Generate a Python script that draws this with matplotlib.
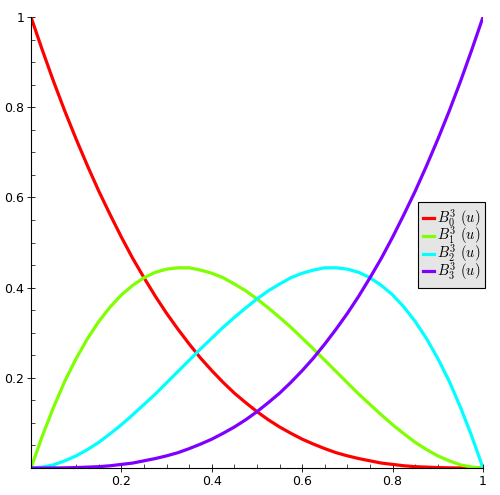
import matplotlib
matplotlib.use("Agg")
import matplotlib.pyplot as plt
from matplotlib.ticker import MultipleLocator, FixedLocator

plt.rcParams['mathtext.fontset'] = 'cm'

# values at u = 0, 0.025, ..., 1
u = [0.0, 0.025, 0.05, 0.075, 0.1, 0.125, 0.15, 0.175, 0.2, 0.225, 0.25,
     0.275, 0.3, 0.325, 0.35, 0.375, 0.4, 0.425, 0.45, 0.475, 0.5,
     0.525, 0.55, 0.575, 0.6, 0.625, 0.65, 0.675, 0.7, 0.725, 0.75,
     0.775, 0.8, 0.825, 0.85, 0.875, 0.9, 0.925, 0.95, 0.975, 1.0]
b0 = [1.0, 0.927, 0.857, 0.791, 0.729, 0.670, 0.614, 0.562, 0.512, 0.465, 0.422,
      0.381, 0.343, 0.308, 0.275, 0.244, 0.216, 0.190, 0.166, 0.145, 0.125,
      0.107, 0.091, 0.077, 0.064, 0.053, 0.043, 0.034, 0.027, 0.021, 0.016,
      0.011, 0.008, 0.005, 0.003, 0.002, 0.001, 0.0004, 0.0001, 0.0, 0.0]
b1 = [0.0, 0.071, 0.135, 0.193, 0.243, 0.287, 0.325, 0.357, 0.384, 0.405, 0.422,
      0.434, 0.441, 0.444, 0.444, 0.439, 0.432, 0.422, 0.408, 0.393, 0.375,
      0.355, 0.334, 0.312, 0.288, 0.264, 0.239, 0.214, 0.189, 0.164, 0.141,
      0.118, 0.096, 0.076, 0.057, 0.041, 0.027, 0.016, 0.007, 0.002, 0.0]
b2 = [0.0, 0.002, 0.007, 0.016, 0.027, 0.041, 0.057, 0.076, 0.096, 0.118, 0.141,
      0.164, 0.189, 0.214, 0.239, 0.264, 0.288, 0.312, 0.334, 0.355, 0.375,
      0.393, 0.408, 0.422, 0.432, 0.439, 0.444, 0.444, 0.441, 0.434, 0.422,
      0.405, 0.384, 0.357, 0.325, 0.287, 0.243, 0.193, 0.135, 0.071, 0.0]
b3 = [0.0, 0.0, 0.0001, 0.0004, 0.001, 0.002, 0.003, 0.005, 0.008, 0.011, 0.016,
      0.021, 0.027, 0.034, 0.043, 0.053, 0.064, 0.077, 0.091, 0.107, 0.125,
      0.145, 0.166, 0.190, 0.216, 0.244, 0.275, 0.308, 0.343, 0.381, 0.422,
      0.465, 0.512, 0.562, 0.614, 0.670, 0.729, 0.791, 0.857, 0.927, 1.0]

series = [b0, b1, b2, b3]
labels = [r'$B_{0}^{3}\ (u)$', r'$B_{1}^{3}\ (u)$', r'$B_{2}^{3}\ (u)$', r'$B_{3}^{3}\ (u)$']
colors = ['#ff0000', '#7fff00', '#00ffff', '#7f00ff']

fig = plt.figure(figsize=(5, 4.95), dpi=100)
ax = fig.add_axes([0.062, 0.0545, 0.904, 0.911])

for ys, lab, c in zip(series, labels, colors):
    ax.plot(u, ys, color=c, lw=2.3, label=lab, solid_joinstyle='round')

ax.set_xlim(0, 1)
ax.set_ylim(0, 1)
ax.spines['top'].set_visible(False)
ax.spines['right'].set_visible(False)
ax.spines['left'].set_position(('data', 0))
ax.spines['bottom'].set_position(('data', 0))
ax.spines['left'].set_linewidth(0.8)
ax.spines['bottom'].set_linewidth(0.8)

ax.xaxis.set_major_locator(FixedLocator([0.2, 0.4, 0.6, 0.8, 1.0]))
ax.yaxis.set_major_locator(FixedLocator([0.2, 0.4, 0.6, 0.8, 1.0]))
ax.set_xticklabels(['0.2', '0.4', '0.6', '0.8', '1'])
ax.set_yticklabels(['0.2', '0.4', '0.6', '0.8', '1'])
ax.xaxis.set_minor_locator(MultipleLocator(0.05))
ax.yaxis.set_minor_locator(MultipleLocator(0.05))
ax.tick_params(which='major', direction='inout', length=6, width=0.6, labelsize=9, pad=2)
ax.tick_params(which='minor', direction='in', length=3, width=0.5)
for sp in ax.spines.values():
    sp.set_zorder(3)

leg = ax.legend(loc='upper left', bbox_to_anchor=(0.857, 0.589), fontsize=10.5,
                handlelength=0.75, handletextpad=0.15, borderpad=0.35,
                labelspacing=-0.3, fancybox=False, framealpha=1,
                borderaxespad=0)
leg.get_frame().set_facecolor('#e5e5e5')
leg.get_frame().set_edgecolor('black')
leg.get_frame().set_linewidth(0.8)

fig.savefig('out.png', dpi=100)
